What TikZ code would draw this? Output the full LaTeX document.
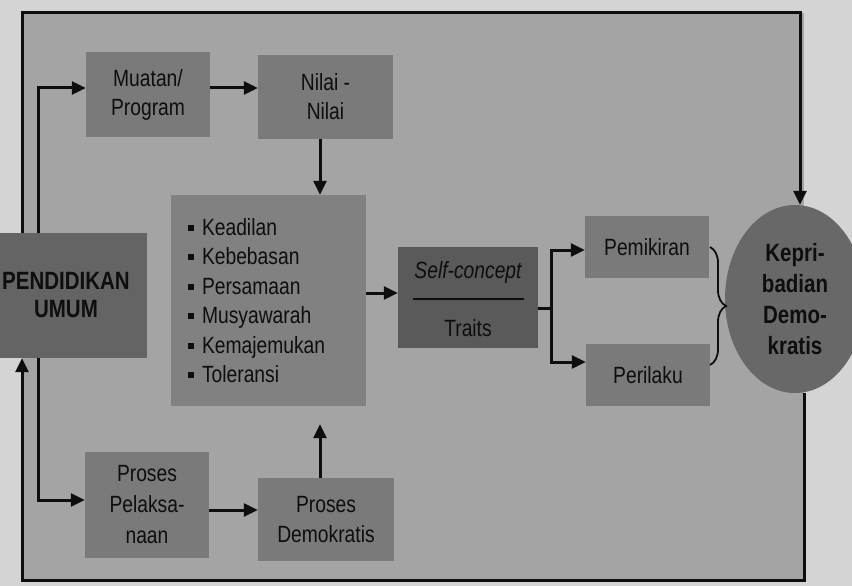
\documentclass[tikz,border=0pt]{standalone}
\usepackage{fontspec}
\setmainfont{Liberation Sans}[FakeStretch=0.82]
\usetikzlibrary{arrows.meta,decorations.pathreplacing,shapes.geometric}
\definecolor{pagebg}{HTML}{D4D4D4}
\definecolor{framebg}{HTML}{A4A4A4}
\definecolor{boxa}{HTML}{7A7A7A}
\definecolor{boxv}{HTML}{818181}
\definecolor{boxdark}{HTML}{646464}
\definecolor{boxsc}{HTML}{5A5A5A}
\definecolor{ellc}{HTML}{686868}
\definecolor{ink}{HTML}{0E0E0E}
\newcommand\sqbul{\rule[0.18em]{6pt}{6pt}\hspace{8pt}}
\begin{document}
\begin{tikzpicture}[x=1pt,y=-1pt,
  box/.style={fill=boxa, draw=none, inner sep=0pt, align=center, text=ink,
    font=\fontsize{23.5}{29}\selectfont},
  arr/.style={draw=ink, line width=3pt, line join=miter,
    -{Triangle[length=14pt,width=13pt]}},
  ln/.style={draw=ink, line width=3pt},
  txt/.style={text=ink, inner sep=0pt, font=\fontsize{23.5}{29}\selectfont}]
\useasboundingbox (0,0) rectangle (852,586);
\fill[pagebg] (0,0) rectangle (852,586);
\fill[framebg] (22,13) rectangle (804,580);

% nodes
\node[box, fill=boxdark, minimum width=162pt, minimum height=125pt,
  font=\bfseries\fontsize{25}{28}\selectfont] (pend) at (66,295.5) {PENDIDIKAN\\UMUM};
\node[box, minimum width=124pt, minimum height=85pt] (muatan) at (148,94.5) {Muatan/\\Program};
\node[box, minimum width=135pt, minimum height=84pt] (nilai) at (325.5,97) {Nilai -\\Nilai};
\node[box, fill=boxv, minimum height=211pt, text width=161pt, inner xsep=17pt,
  align=left, font=\fontsize{23.5}{29.5}\selectfont] (nilaiv) at (268.5,300.5)
  {\sqbul Keadilan\\\sqbul Kebebasan\\\sqbul Persamaan\\\sqbul Musyawarah\\\sqbul Kemajemukan\\\sqbul Toleransi};
\node[box, fill=boxsc, minimum width=140pt, minimum height=101pt] (sc) at (468,297.5) {};
\node[txt] (sctext) at (468,272) {\itshape Self-concept};
\node[txt] (trtext) at (468,328) {Traits};
\draw[ink, line width=1.4pt] (413,299) -- (524,299);
\node[box, minimum width=124pt, minimum height=62pt] (pem) at (647,247) {Pemikiran};
\node[box, minimum width=124pt, minimum height=62pt] (per) at (648,375) {Perilaku};
\node[ellipse, fill=ellc, minimum width=140pt, minimum height=188pt, inner sep=0pt,
  align=center, text=ink, font=\bfseries\fontsize{25}{31}\selectfont] (kep) at (795,299)
  {Kepri-\\badian\\Demo-\\kratis};
\node[box, minimum width=124pt, minimum height=106pt,
  font=\fontsize{23.5}{31}\selectfont] (pel) at (147,505) {Proses\\Pelaksa-\\naan};
\node[box, minimum width=136pt, minimum height=83pt,
  font=\fontsize{23.5}{30}\selectfont] (dem) at (326,519.5) {Proses\\Demokratis};

% helper coordinates
\coordinate (xa) at (38,0);
\coordinate (xf) at (22,0);
\coordinate (xn) at (320,0);
\coordinate (xb) at (551,0);
\coordinate (ya) at (0,88);
\coordinate (yv) at (0,293);
\coordinate (ys) at (0,308);
\coordinate (yp) at (0,250);
\coordinate (yq) at (0,362);
\coordinate (yl) at (0,500);
\coordinate (yd) at (0,510);
\coordinate (tl) at (22,13);
\coordinate (tr) at (800,13);
\coordinate (br) at (804,580);
\coordinate (bl) at (22,580);

% connectors
\draw[arr] (pend.north -| xa) |- (muatan.west |- ya);
\draw[arr] (muatan.east |- ya) -- (nilai.west |- ya);
\draw[arr] (nilai.south -| xn) -- (nilaiv.north -| xn);
\draw[arr] (nilaiv.east |- yv) -- (sc.west |- yv);
\draw[ln] (sc.east |- ys) -- (xb |- ys);
\draw[arr] (xb |- ys) |- (pem.west |- yp);
\draw[arr] (xb |- ys) |- (per.west |- yq);
\draw[arr] (pend.south -| xa) |- (pel.west |- yl);
\draw[arr] (pel.east |- yd) -- (dem.west |- yd);
\draw[arr, shorten >=18pt] (dem.north -| xn) -- (nilaiv.south -| xn);
\draw[arr] (pend.north -| xf) -- (tl) -- (tr) -- (kep.north -| tr);
\draw[arr] (kep.south -| br) -- (br) -- (bl) -- (pend.south -| bl);

% brace
\draw[ink, line width=1.8pt, decorate, decoration={brace, amplitude=16pt}]
  (710,247) -- (710,365);
\end{tikzpicture}
\end{document}
